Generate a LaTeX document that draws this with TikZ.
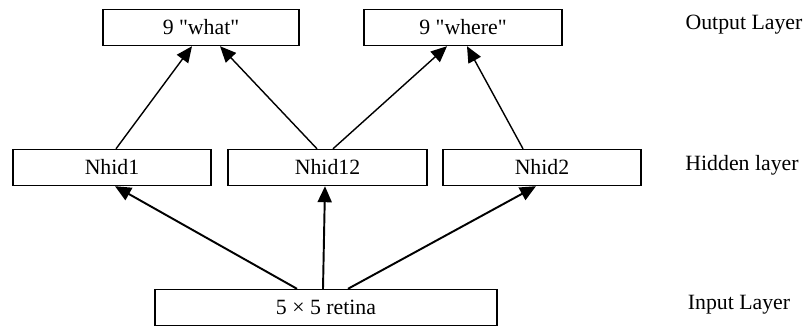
\documentclass[tikz,border=0pt]{standalone}
\usepackage{fontspec}
\setmainfont{Liberation Serif}
\usetikzlibrary{arrows.meta, calc}

\tikzset{
    layerbox/.style={draw, line width=0.8pt, minimum height=0.72cm, inner sep=0pt},
    uparrow/.style={line width=0.8pt, -{Triangle[length=0.32cm, width=0.28cm]}},
    inarrow/.style={line width=1.1pt, -{Triangle[length=0.32cm, width=0.28cm]}}
}

\begin{document}
\begin{tikzpicture}[font=\fontsize{12.4}{14}\selectfont]
        \useasboundingbox (0, 0) rectangle (16.1, 6.54);
        % output layer
        \node[layerbox, minimum width=3.92cm] (what) at (4.02, 5.99) {9 \textquotedbl what\textquotedbl};
        \node[layerbox, minimum width=3.96cm] (where) at (9.26, 5.99) {9 \textquotedbl where\textquotedbl};
        % hidden layer
        \node[layerbox, minimum width=3.96cm] (nhid1) at (2.24, 3.19) {Nhid1};
        \node[layerbox, minimum width=3.98cm] (nhid12) at (6.55, 3.19) {Nhid12};
        \node[layerbox, minimum width=3.96cm] (nhid2) at (10.84, 3.19) {Nhid2};
        % input layer
        \node[layerbox, minimum width=6.84cm] (retina) at (6.52, 0.39) {5 × 5 retina};
        % layer names
        \node (outname) at (14.88, 6.04) {Output Layer};
        \node (hidname) at (14.84, 3.24) {Hidden layer};
        \node (inname) at (14.78, 0.44) {Input Layer};
        % hidden -> output
        \draw[uparrow] ($(nhid1.north)+(0.08, 0)$) -- ($(what.south)+(-0.18, 0)$);
        \draw[uparrow] ($(nhid12.north)+(-0.21, 0)$) -- ($(what.south)+(0.38, 0)$);
        \draw[uparrow] ($(nhid12.north)+(0.11, 0)$) -- ($(where.south)+(-0.32, 0)$);
        \draw[uparrow] ($(nhid2.north)+(-0.38, 0)$) -- ($(where.south)+(0.08, 0)$);
        % input -> hidden
        \draw[inarrow] ($(retina.north)+(-0.58, 0)$) -- ($(nhid1.south)+(0.06, 0)$);
        \draw[inarrow] ($(retina.north)+(-0.06, 0)$) -- ($(nhid12.south)+(-0.05, 0)$);
        \draw[inarrow] ($(retina.north)+(0.44, 0)$) -- ($(nhid2.south)+(-0.12, 0)$);
    \end{tikzpicture}
\end{document}
